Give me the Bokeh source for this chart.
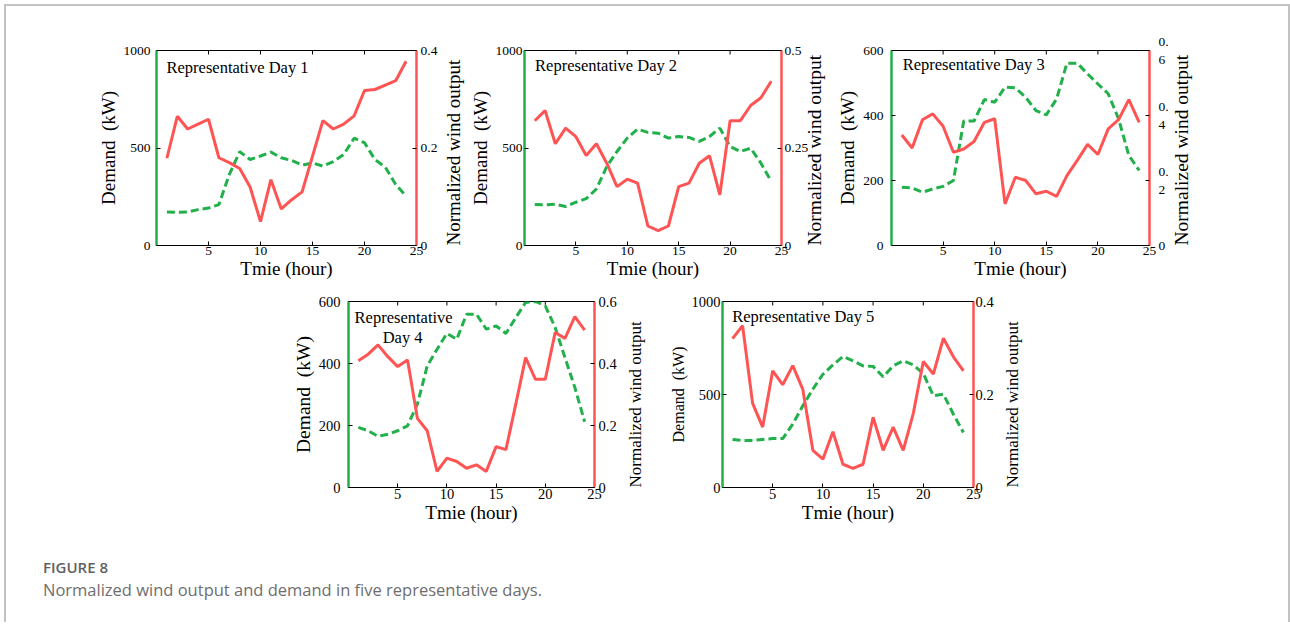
import math
from bokeh.plotting import figure
from bokeh.models import Range1d, LinearAxis, FixedTicker, Label, Spacer, Div
from bokeh.layouts import row, column
from bokeh.embed import file_html
from bokeh.resources import INLINE

# ---------------- data ----------------
hours = list(range(1, 25))

demand_day1 = [172, 170, 172, 184, 192, 210, 364, 481, 441, 459, 479, 450,
               436, 412, 424, 407, 430, 467, 550, 527, 441, 402, 313, 253]
wind_day1 = [0.179, 0.265, 0.239, 0.249, 0.259, 0.180, 0.170, 0.158, 0.120, 0.049, 0.135, 0.075,
             0.094, 0.110, 0.183, 0.256, 0.239, 0.249, 0.266, 0.318, 0.320, 0.329, 0.338, 0.378]

demand_day2 = [210, 208, 212, 200, 222, 240, 290, 405, 482, 551, 597, 580,
               576, 551, 559, 554, 534, 559, 602, 508, 482, 499, 422, 330]
wind_day2 = [0.320, 0.346, 0.261, 0.301, 0.279, 0.231, 0.261, 0.211, 0.151, 0.170, 0.160, 0.050,
             0.038, 0.050, 0.151, 0.160, 0.211, 0.230, 0.130, 0.320, 0.320, 0.359, 0.379, 0.421]

demand_day3 = [179, 177, 164, 174, 182, 200, 383, 383, 449, 441, 487, 485,
               456, 415, 402, 451, 561, 561, 528, 497, 467, 390, 277, 231]
wind_day3 = [0.340, 0.300, 0.387, 0.405, 0.367, 0.287, 0.297, 0.320, 0.379, 0.390, 0.128, 0.210,
             0.200, 0.159, 0.167, 0.151, 0.215, 0.262, 0.311, 0.280, 0.359, 0.387, 0.449, 0.379]

demand_day4 = [194, 183, 165, 172, 183, 199, 269, 392, 446, 497, 478, 559,
               559, 511, 521, 497, 548, 597, 600, 586, 516, 419, 323, 212]
wind_day4 = [0.409, 0.430, 0.460, 0.422, 0.390, 0.411, 0.223, 0.183, 0.052, 0.095, 0.084, 0.062,
             0.073, 0.052, 0.132, 0.122, 0.269, 0.419, 0.349, 0.349, 0.500, 0.481, 0.551, 0.508]

demand_day5 = [258, 253, 253, 258, 263, 263, 341, 439, 529, 609, 659, 704,
               681, 654, 651, 595, 654, 681, 659, 613, 493, 502, 394, 296]
wind_day5 = [0.320, 0.348, 0.181, 0.130, 0.251, 0.221, 0.262, 0.211, 0.080, 0.061, 0.120, 0.050,
             0.041, 0.050, 0.151, 0.080, 0.130, 0.080, 0.159, 0.271, 0.244, 0.321, 0.281, 0.251]

x_ticks = [5, 10, 15, 20, 25]
x_tick_labels = ["5", "10", "15", "20", "25"]

demand_ticks_1000 = [0, 500, 1000]
demand_labels_1000 = ["0", "500", "1000"]
demand_ticks_600 = [0, 200, 400, 600]
demand_labels_600 = ["0", "200", "400", "600"]

wind_ticks_04 = [0, 0.2, 0.4]
wind_labels_04 = ["0", "0.2", "0.4"]
wind_ticks_05 = [0, 0.25, 0.5]
wind_labels_05 = ["0", "0.25", "0.5"]
wind_ticks_06 = [0, 0.2, 0.4, 0.6]
wind_labels_06 = ["0", "0.2", "0.4", "0.6"]
wind_labels_06_wrapped = ["0", "0.\n2", "0.\n4", "0.\n6"]

GREEN = "#22b04b"
RED = "#ff5454"
SERIF = "Liberation Serif"
X_MAX = 25


def panel(demand, wind, dmax, dticks, dlabels, wmax, wticks, wlabels,
          texts, width, height, bl, br, bt, bb,
          tick_fs, title_fs, rtitle_fs, ltitle_fs,
          lstand, rstand, rtitle_stand, ltitle_stand=2, margin=None):
    p = figure(width=width, height=height, x_range=Range1d(0, X_MAX), y_range=Range1d(0, dmax),
               output_backend="svg", toolbar_location=None,
               min_border_left=bl, min_border_right=br, min_border_top=bt, min_border_bottom=bb)
    if margin is not None:
        p.margin = margin
    p.border_fill_color = None
    p.background_fill_color = None
    p.extra_y_ranges = {"w": Range1d(0, wmax)}
    p.xgrid.visible = False
    p.ygrid.visible = False
    p.outline_line_color = "black"
    p.outline_line_width = 1

    # bottom axis
    xa = p.xaxis[0]
    xa.ticker = FixedTicker(ticks=x_ticks)
    xa.major_label_overrides = dict(zip(x_ticks, x_tick_labels))
    xa.axis_line_color = "black"
    xa.axis_line_width = 1
    xa.major_tick_in = 4
    xa.major_tick_out = 0
    xa.minor_tick_line_color = None
    xa.major_label_standoff = 1
    xa.major_label_text_font = SERIF
    xa.major_label_text_font_size = tick_fs
    xa.major_label_text_color = "black"
    xa.axis_label = "Tmie (hour)"
    xa.axis_label_text_font = SERIF
    xa.axis_label_text_font_style = "normal"
    xa.axis_label_text_font_size = title_fs
    xa.axis_label_text_color = "black"
    xa.axis_label_standoff = 0

    # left axis (demand)
    ya = p.yaxis[0]
    ya.ticker = FixedTicker(ticks=dticks)
    ya.major_label_overrides = dict(zip(dticks, dlabels))
    ya.axis_line_color = GREEN
    ya.axis_line_width = 2.5
    ya.major_tick_in = 4
    ya.major_tick_out = 0
    ya.major_tick_line_color = "black"
    ya.minor_tick_line_color = None
    ya.major_label_standoff = lstand
    ya.major_label_text_font = SERIF
    ya.major_label_text_font_size = tick_fs
    ya.major_label_text_color = "black"
    ya.axis_label = "Demand \u00a0(kW)"
    ya.axis_label_text_font = SERIF
    ya.axis_label_text_font_style = "normal"
    ya.axis_label_text_font_size = ltitle_fs
    ya.axis_label_text_color = "black"
    ya.axis_label_standoff = ltitle_stand

    # right axis (wind), title reading bottom-to-top
    ra = LinearAxis(y_range_name="w", ticker=FixedTicker(ticks=wticks))
    ra.major_label_overrides = dict(zip(wticks, wlabels))
    ra.axis_line_color = RED
    ra.axis_line_width = 2.5
    ra.major_tick_in = 4
    ra.major_tick_out = 0
    ra.major_tick_line_color = "black"
    ra.minor_tick_line_color = None
    ra.major_label_standoff = rstand
    ra.major_label_text_font = SERIF
    ra.major_label_text_font_size = tick_fs
    ra.major_label_text_color = "black"
    ra.axis_label = "Normalized wind output"
    ra.axis_label_orientation = math.pi / 2
    try:
        ra.axis_label_align = "start"
    except Exception:
        pass
    ra.axis_label_text_font = SERIF
    ra.axis_label_text_font_style = "normal"
    ra.axis_label_text_font_size = rtitle_fs
    ra.axis_label_text_color = "black"
    ra.axis_label_standoff = rtitle_stand
    p.add_layout(ra, "right")

    # inward tick marks on the top frame edge
    p.scatter(x_ticks, [dmax] * len(x_ticks), marker="dash", angle=math.pi / 2, size=8,
              line_color="black", line_width=1)

    p.line(hours, demand, line_color=GREEN, line_width=3, line_dash="8 4")
    p.line(hours, wind, y_range_name="w", line_color=RED, line_width=3)

    for (tx, ty, t, align) in texts:
        p.add_layout(Label(x=tx, y=ty, text=t, text_font=SERIF, text_font_size="16.5px",
                           text_baseline="middle", text_align=align, text_color="black"))
    return p


p1 = panel(demand_day1, wind_day1, 1000, demand_ticks_1000, demand_labels_1000,
           0.4, wind_ticks_04, wind_labels_04,
           [(0.96, 915, "Representative Day 1", "left")],
           472, 284, 150, 62, 44, 45, "13.5px", "19px", "19px", "19px", 6, 4, 13)
p2 = panel(demand_day2, wind_day2, 1000, demand_ticks_1000, demand_labels_1000,
           0.5, wind_ticks_05, wind_labels_05,
           [(1.03, 923, "Representative Day 2", "left")],
           376, 284, 55, 61, 44, 45, "13.5px", "19px", "19.5px", "19px", 2, 3, 3,
           margin=(0, 0, 0, -12))
p3 = panel(demand_day3, wind_day3, 600, demand_ticks_600, demand_labels_600,
           0.6, wind_ticks_06, wind_labels_06_wrapped,
           [(1.08, 557, "Representative Day 3", "left")],
           454, 284, 54, 139, 44, 45, "13.5px", "19px", "19.5px", "19px", 8, 9, 10,
           margin=(0, 0, 0, -8))
p4 = panel(demand_day4, wind_day4, 600, demand_ticks_600, demand_labels_600,
           0.6, wind_ticks_06, wind_labels_06,
           [(5.6, 548, "Representative", "center"), (5.5, 484, "Day 4", "center")],
           369, 242, 60, 62, 11, 45, "14.5px", "19px", "17px", "19.5px", 8, 4, 16)
p5 = panel(demand_day5, wind_day5, 1000, demand_ticks_1000, demand_labels_1000,
           0.4, wind_ticks_04, wind_labels_04,
           [(0.97, 919, "Representative Day 5", "left")],
           381, 242, 65, 65, 11, 45, "14.5px", "19px", "17px", "16px", 2, 2, 16)

caption = Div(
    text=("<div style=\"padding:20px 0 0 32px;font-family:'Open Sans',sans-serif;\">"
          "<div style='font-size:15px;line-height:20px;color:#5f5f5f;font-weight:600;'>FIGURE 8</div>"
          "<div style='font-size:16.5px;line-height:26px;color:#6e6e6e;'>"
          "Normalized wind output and demand in five representative days.</div></div>"),
    width=900, height=80)

layout = column(
    row(p1, p2, p3),
    row(Spacer(width=282, height=242), p4, p5),
    caption,
    margin=(4, 0, 0, 4),
    styles={"border-top": "2px solid #c2c2c2", "border-left": "2px solid #c2c2c2",
            "border-right": "2px solid #c2c2c2"},
)

open("out.html", "w").write(file_html(layout, INLINE))
